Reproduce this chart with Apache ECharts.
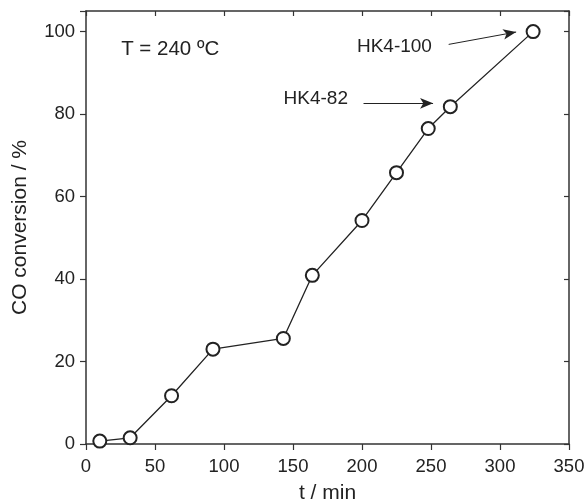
<!DOCTYPE html>
<html>
<head>
	<meta charset="UTF-8">
	<title></title>
	<style>
		html, body { margin: 0; padding: 0; background: #fff; }
		#chart { width: 584px; height: 500px; }
	</style>
	<script src="https://cdn.jsdelivr.net/npm/echarts@6/dist/echarts.min.js"></script>
</head>
<body>
	<div id="chart"></div>
	<script>
		var myChart = echarts.init(document.getElementById('chart'));

		// time on stream (min) and CO conversion (%)
		var times = [10, 32, 62, 92, 143, 164, 200, 225, 248, 264, 324];
		var conversion = [0.7, 1.5, 11.7, 23.0, 25.6, 40.9, 54.2, 65.8, 76.5, 81.8, 100];
		var xTicks = [0, 50, 100, 150, 200, 250, 300, 350];
		var yTicks = [0, 20, 40, 60, 80, 100];

		// text notes: [x, y, text] in data units
		var notes = [
			[61, 95.7, 'T = 240 ºC'],
			[223.5, 96.4, 'HK4-100'],
			[166.5, 83.6, 'HK4-82']
		];
		// arrows: [x1, y1, x2, y2]
		var arrows = [
			[262.8, 96.9, 311.7, 99.9],
			[201.1, 82.6, 251.5, 82.6]
		];

		var font = 'Liberation Sans, Arial, sans-serif';
		var ink = '#222';
		var axisCol = '#333';

		var option = {
			animation: false,
			color: [ink],
			textStyle: { fontFamily: font },
			grid: { left: 86, right: 15, top: 11, bottom: 56, containLabel: false, outerBoundsMode: 'none' },
			xAxis: [{
				type: 'value', min: xTicks[0], max: xTicks[xTicks.length - 1], interval: 50,
				name: 't / min', nameLocation: 'middle', nameGap: 39,
				nameTextStyle: { fontSize: 21, color: ink, fontFamily: font },
				axisLine: { onZero: false, lineStyle: { color: axisCol, width: 1.5 } },
				axisTick: { inside: false, length: 6, lineStyle: { color: axisCol, width: 1.2 } },
				axisLabel: { fontSize: 18.5, color: ink, margin: 13, fontFamily: font },
				splitLine: { show: false }
			}, {
				type: 'value', position: 'top', min: xTicks[0], max: xTicks[xTicks.length - 1], interval: 50,
				axisLine: { show: true, onZero: false, lineStyle: { color: axisCol, width: 1.5 } },
				axisTick: { show: true, inside: true, length: 5, lineStyle: { color: axisCol, width: 1.2 } },
				axisLabel: { show: false },
				splitLine: { show: false }
			}],
			yAxis: [{
				type: 'value', min: yTicks[0], max: 105, interval: 20,
				name: 'CO conversion / %', nameLocation: 'middle', nameGap: 55,
				nameTextStyle: { fontSize: 21, color: ink, fontFamily: font },
				axisLine: { show: true, onZero: false, lineStyle: { color: axisCol, width: 1.5 } },
				axisTick: { show: true, inside: false, length: 6, lineStyle: { color: axisCol, width: 1.2 } },
				axisLabel: {
					fontSize: 18.5, color: ink, margin: 11, fontFamily: font,
					formatter: function (v) { return yTicks.indexOf(v) >= 0 ? String(v) : ''; }
				},
				splitLine: { show: false }
			}, {
				type: 'value', position: 'right', min: yTicks[0], max: 105, interval: 20,
				axisLine: { show: true, onZero: false, lineStyle: { color: axisCol, width: 1.5 } },
				axisTick: { show: true, inside: true, length: 5, lineStyle: { color: axisCol, width: 1.2 } },
				axisLabel: { show: false },
				splitLine: { show: false }
			}],
			series: [{
				type: 'line',
				data: times.map(function (t, i) { return [t, conversion[i]]; }),
				symbol: 'emptyCircle',
				symbolSize: 13,
				showAllSymbol: true,
				clip: false,
				lineStyle: { color: ink, width: 1.3 },
				itemStyle: { color: ink, borderColor: ink, borderWidth: 1.3 },
				z: 3,
				markPoint: {
					silent: true,
					symbol: 'circle', symbolSize: 0,
					label: { show: true, position: 'inside', color: ink, fontFamily: font, fontSize: 19,
						formatter: function (p) { return p.name; } },
					data: notes.map(function (n, i) {
						return { name: n[2], coord: [n[0], n[1]], label: { fontSize: i === 0 ? 20.5 : 19 } };
					})
				},
				markLine: {
					silent: true,
					symbol: ['none', 'arrow'],
					symbolSize: 12,
					label: { show: false },
					lineStyle: { color: ink, width: 1, type: 'solid' },
					data: arrows.map(function (a) {
						return [
							{ coord: [a[0], a[1]], symbol: 'none' },
							{ coord: [a[2], a[3]], symbol: 'arrow', symbolSize: [8, 13], itemStyle: { color: ink } }
						];
					})
				}
			}]
		};

		myChart.setOption(option);
	</script>
</body>
</html>
